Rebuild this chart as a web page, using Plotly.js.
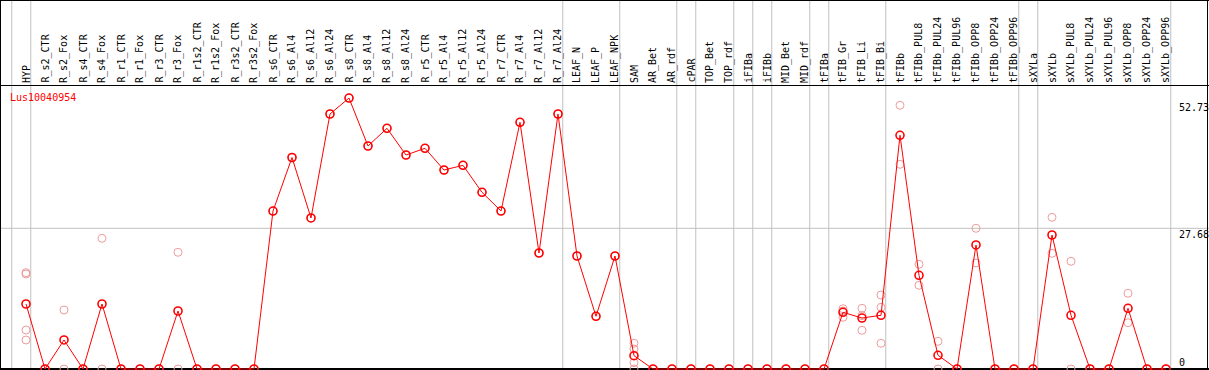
<!DOCTYPE html>
<html><head><meta charset="utf-8">
<script src="https://cdn.plot.ly/plotly-3.0.1.min.js"></script>
<style>html,body{margin:0;padding:0;background:#fff;overflow:hidden;} #chart{width:1209px;height:370px;}</style>
</head><body><div id="chart"></div>
<script>
const geneName = "Lus10040954";
const categories = ["HYP","R_s2_CTR","R_s2_Fox","R_s4_CTR","R_s4_Fox","R_r1_CTR","R_r1_Fox","R_r3_CTR","R_r3_Fox","R_r1s2_CTR","R_r1s2_Fox","R_r3s2_CTR","R_r3s2_Fox","R_s6_CTR","R_s6_Al4","R_s6_Al12","R_s6_Al24","R_s8_CTR","R_s8_Al4","R_s8_Al12","R_s8_Al24","R_r5_CTR","R_r5_Al4","R_r5_Al12","R_r5_Al24","R_r7_CTR","R_r7_Al4","R_r7_Al12","R_r7_Al24","LEAF_N","LEAF_P","LEAF_NPK","SAM","AR_Bet","AR_rdf","cPAR","TOP_Bet","TOP_rdf","iFIBa","iFIBb","MID_Bet","MID_rdf","tFIBa","tFIB_Gr","tFIB_Li","tFIB_Bi","tFIBb","tFIBb_PUL8","tFIBb_PUL24","tFIBb_PUL96","tFIBb_OPP8","tFIBb_OPP24","tFIBb_OPP96","sXYLa","sXYLb","sXYLb_PUL8","sXYLb_PUL24","sXYLb_PUL96","sXYLb_OPP8","sXYLb_OPP24","sXYLb_OPP96"];
const meanValues = [12.79,0,5.71,0,12.79,0,0,0,11.41,0,0,0,0,
  31.08,41.61,29.71,50.17,53.31,43.87,47.35,42.10,43.42,39.15,40.07,34.76,31.08,48.53,22.82,50.17,
  22.23,10.37,22.23,2.62,
  0,0,0,0,0,0,0,0,0,0,
  11.15,10.03,10.57,45.98,18.43,2.70,0,24.40,0,0,
  0,26.36,10.57,0,0,11.94,0,0];
const replicateValues = [[18.95,18.69,7.67,5.71],[0],[11.61,0],[0],[25.71,0],[0],[0],[0],[22.96,0],[0],[0],[0],[0],
  [31.08],[41.61],[29.71],[50.17],[53.31],[43.87],[47.35],[42.10],[43.42],[39.15],[40.07],[34.76],[31.08],[48.53],[22.82],[50.17],
  [22.23],[10.37],[22.23],[5.06,3.93,1.24,0],
  [0],[0],[0],[0],[0],[0],[0],[0],[0],[0],
  [11.86,11.4,10.17],[11.94,10.5,7.61],[14.56,12.14,5.06],[51.88,40.27],[20.60,16.47],[5.45,0],[0,0],[27.68,20.85],[0],[0],
  [0],[29.84,22.76],[21.19,0],[0,0],[0],[14.89,9.11],[0],[0]];
const groupEnds = [-1,0,28,31,34,35,37,38,39,41,42,45,52,53,60];
const yTickValues = [0, 27.68, 52.73];
const yTickLabels = ["0", "27.68", "52.73"];

const W = 1209, H = 370;
const step = 19, firstPx = 26;
const xr0 = -firstPx / step, xr1 = xr0 + W / step;
const zeroPx = 369, pxPerUnit = 5.083;
const yr0 = -(H - zeroPx) / pxPerUnit, yr1 = zeroPx / pxPerUnit;
const mono = "DejaVu Sans Mono, monospace";

const repX = [], repY = [];
replicateValues.forEach((arr, i) => arr.forEach(v => { repX.push(categories[i]); repY.push(v); }));

const traces = [
  {x: repX, y: repY, type: "scatter", mode: "markers", cliponaxis: false,
   marker: {symbol: "circle-open", size: 8, color: "#ee9c9c", line: {width: 1, color: "#ee9c9c"}}, hoverinfo: "skip"},
  {x: categories, y: meanValues, type: "scatter", mode: "lines+markers", cliponaxis: false,
   line: {color: "#ff0000", width: 1},
   marker: {symbol: "circle-open", size: 8, color: "#ff0000", line: {width: 1.6, color: "#ff0000"}}, hoverinfo: "skip"}
];

const shapes = [];
groupEnds.forEach(e => shapes.push({type: "line", xref: "x", yref: "paper", x0: e + 0.25, x1: e + 0.25, y0: 0, y1: 1,
  line: {color: "#c0c0c0", width: 1}, layer: "below"}));
shapes.push({type: "line", xref: "paper", yref: "y", x0: 0, x1: 1, y0: yTickValues[1], y1: yTickValues[1],
  line: {color: "#c0c0c0", width: 1}, layer: "below"});
const py = p => 1 - p / H;
const px = p => p / W;
shapes.push({type: "line", xref: "paper", yref: "paper", x0: 0, x1: 1, y0: py(85.5), y1: py(85.5), line: {color: "#000", width: 1}});
shapes.push({type: "line", xref: "paper", yref: "paper", x0: 0, x1: 1, y0: py(0.5), y1: py(0.5), line: {color: "#000", width: 1}});
shapes.push({type: "line", xref: "paper", yref: "paper", x0: px(0.5), x1: px(0.5), y0: 0, y1: 1, line: {color: "#000", width: 1}});
shapes.push({type: "line", xref: "paper", yref: "paper", x0: px(1207.5), x1: px(1207.5), y0: 0, y1: 1, line: {color: "#000", width: 1}});
shapes.push({type: "line", xref: "paper", yref: "y", x0: 0, x1: 1, y0: 0, y1: 0, line: {color: "#000", width: 2}, layer: "below"});

const annotations = [];
categories.forEach(c => annotations.push({x: c, xref: "x", y: py(84), yref: "paper", text: c, textangle: -90,
  showarrow: false, xanchor: "center", yanchor: "bottom", font: {family: mono, size: 10, color: "#000"}, borderpad: 0}));
annotations.push({x: px(9), xref: "paper", y: py(97), yref: "paper", text: geneName, showarrow: false,
  xanchor: "left", yanchor: "middle", font: {family: mono, size: 10, color: "#ff0000"}, borderpad: 0});
yTickValues.forEach((v, i) => annotations.push({x: px(1178), xref: "paper", y: v, yref: "y", text: yTickLabels[i],
  showarrow: false, xanchor: "left", yanchor: v === 0 ? "bottom" : "top", font: {family: mono, size: 10, color: "#000"}, borderpad: 0}));

const layout = {
  width: W, height: H, margin: {l: 0, r: 0, t: 0, b: 0},
  paper_bgcolor: "#fff", plot_bgcolor: "#fff", showlegend: false,
  xaxis: {type: "category", categoryarray: categories, range: [xr0, xr1], showticklabels: false, showgrid: false, zeroline: false, showline: false, ticks: ""},
  yaxis: {range: [yr0, yr1], showticklabels: false, showgrid: false, zeroline: false, showline: false, ticks: ""},
  shapes: shapes, annotations: annotations
};
Plotly.newPlot("chart", traces, layout, {staticPlot: true, displayModeBar: false});
</script>
</body></html>
